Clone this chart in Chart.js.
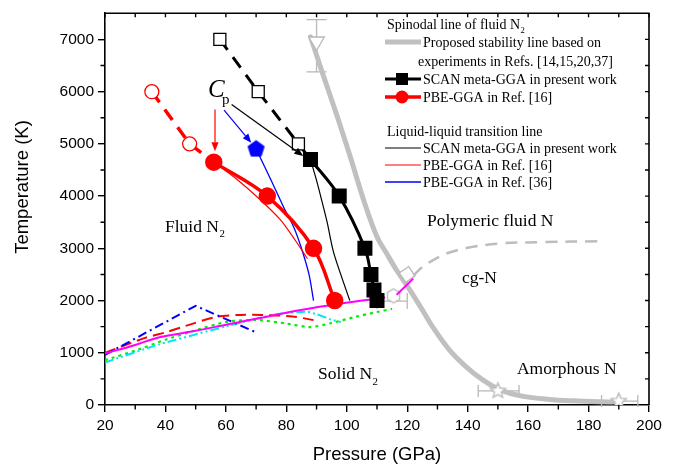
<!DOCTYPE html>
<html>
<head>
<meta charset="utf-8">
<script src="https://cdn.jsdelivr.net/npm/chart.js@4.4.1/dist/chart.umd.min.js"></script>
<style>
  html, body { margin: 0; padding: 0; background: #fff; }
  #wrap { width: 676px; height: 472px; }
</style>
</head>
<body>
<div id="wrap"><canvas id="c" width="676" height="472"></canvas></div>
<script>
// ---- Axis ticks ----
const pressureTicks = [20, 40, 60, 80, 100, 120, 140, 160, 180, 200];
const temperatureTicks = [0, 1000, 2000, 3000, 4000, 5000, 6000, 7000];

// ---- Spinodal line of fluid N2 ----
// SCAN meta-GGA (present work): computed points and the extrapolated branch
const scanSpinP = [88, 97.5, 106, 108, 109, 110];
const scanSpinT = [4700, 4000, 3000, 2500, 2200, 2000];
const scanSpinExtP = [58, 70.7, 84, 88];
const scanSpinExtT = [7000, 6000, 5000, 4700];
// PBE-GGA (Ref. 16)
const pbeSpinP = [56, 73.7, 89, 96];
const pbeSpinT = [4650, 4000, 3000, 2000];
const pbeSpinExtP = [35.5, 48, 56];
const pbeSpinExtT = [6000, 5000, 4650];
// Proposed stability line from experiments
const stabilityP = [88, 92, 96.7, 101, 106, 110, 113.2, 116.5, 120, 124.5, 128.7, 134, 139.7, 145, 150.7, 158, 167, 175, 184, 188];
const stabilityT = [7050, 6350, 5550, 4780, 3850, 3220, 2900, 2580, 2280, 1870, 1470, 1050, 720, 480, 290, 170, 107, 80, 62, 58];

// ---- Liquid-liquid transition lines ----
const scanLltP = [88, 90, 92, 93.5, 95.5, 98, 101];
const scanLltT = [4700, 4300, 3850, 3500, 2950, 2500, 2000];
const pbe16LltP = [56, 63, 71, 78, 83, 87];
const pbe16LltT = [4650, 4350, 3950, 3550, 3150, 2800];
const pbe36LltP = [70, 75, 79, 82.5, 85, 87.5, 89];
const pbe36LltT = [4900, 4300, 3800, 3400, 3000, 2500, 2000];

// ---- Melting lines ----
const meltP = [20, 30, 38, 50, 60, 70, 82, 90, 97, 104.5, 112.7];
const meltT = [985, 1150, 1298, 1420, 1537, 1650, 1790, 1870, 1935, 1995, 2057];
const meltHighP = [116.5, 122];
const meltHighT = [2110, 2420];
const meltBlueP = [20, 50, 70];
const meltBlueT = [960, 1900, 1390];
const meltRedP = [20, 33, 40, 47, 57, 65, 72, 82, 89];
const meltRedT = [1000, 1280, 1390, 1520, 1690, 1725, 1725, 1695, 1625];
const meltCyanP = [20, 38, 60, 75.7, 86.7, 90, 95, 98];
const meltCyanT = [815, 1161, 1505, 1726, 1788, 1738, 1632, 1590];
const meltGreenP = [20, 30, 40, 50, 60, 70, 80, 88, 95, 103, 110, 115];
const meltGreenT = [860, 1040, 1250, 1430, 1590, 1630, 1560, 1490, 1570, 1690, 1780, 1840];
// polymeric fluid / cg-N boundary
const cgBoundP = [122, 125, 129, 134, 140, 150, 165, 183];
const cgBoundT = [2480, 2640, 2790, 2920, 3010, 3090, 3120, 3135];

// ---- Experimental points ----
const expShockP = [90];   const expShockT = [6960];
const expShockTLo = [6380]; const expShockTHi = [7380];
const expCgP = [120];     const expCgT = [2500];
const expHexP = [115.5];  const expHexT = [2090];
const expBarP = [115];    const expBarT = [1990];
const expBarPLo = [110];  const expBarPHi = [120];
const expAmorphP = [150, 190]; const expAmorphT = [270, 75];
const expAmorphPLo = [143.5, 184.3]; const expAmorphPHi = [157, 196.3];

const pts = (xs, ys) => xs.map((x, i) => ({ x, y: ys[i] }));

// polygon / star markers drawn into small canvases
function shapeCanvas(kind, r, fill, stroke, lw) {
  const s = Math.ceil(2 * r + 2 * lw + 2);
  const c = document.createElement('canvas');
  c.width = s; c.height = s;
  const g = c.getContext('2d');
  const cx = s / 2, cy = s / 2;
  g.beginPath();
  if (kind === 'star') {
    for (let i = 0; i < 10; i++) {
      const a = -Math.PI / 2 + i * Math.PI / 5;
      const rr = i % 2 ? r * 0.45 : r;
      g.lineTo(cx + rr * Math.cos(a), cy + rr * Math.sin(a));
    }
  } else {
    const n = kind === 'pentagon' ? 5 : 6;
    for (let i = 0; i < n; i++) {
      const a = -Math.PI / 2 + i * 2 * Math.PI / n;
      g.lineTo(cx + r * Math.cos(a), cy + r * Math.sin(a));
    }
  }
  g.closePath();
  if (fill) { g.fillStyle = fill; g.fill(); }
  if (stroke) { g.strokeStyle = stroke; g.lineWidth = lw; g.stroke(); }
  return c;
}
const pentagon = shapeCanvas('pentagon', 8.5, '#0000ff', '#0000ff', 1);
const hexagon = shapeCanvas('hexagon', 7, '#ffffff', '#b8b8b8', 1.3);
const star = shapeCanvas('star', 8, '#ffffff', '#b8b8b8', 1.3);

const GRAY = '#c0c0c0';
const line = (data, color, width, extra) => Object.assign({
  data, borderColor: color, backgroundColor: color, borderWidth: width,
  pointRadius: 0, fill: false, showLine: true, tension: 0
}, extra || {});

const datasets = [
  line(pts(scanSpinP, scanSpinT), '#000', 3, { tension: 0.35, pointRadius: 8.5, pointStyle: 'rect', pointBackgroundColor: '#000', pointBorderColor: '#000' }),
  line(pts(scanSpinExtP, scanSpinExtT), '#000', 3, { borderDash: [13, 9], pointRadius: [8.5, 8.5, 8.5, 0], pointStyle: 'rect', pointBackgroundColor: '#fff', pointBorderColor: '#000', pointBorderWidth: 1.3 }),
  line(pts(pbeSpinP, pbeSpinT), '#ff0000', 3.5, { tension: 0.35, pointRadius: 7, pointStyle: 'circle', pointBackgroundColor: '#ff0000', pointBorderColor: '#ff0000' }),
  line(pts(pbeSpinExtP, pbeSpinExtT), '#ff0000', 3.5, { borderDash: [13, 9], pointRadius: [7, 7, 0], pointBackgroundColor: '#fff', pointBorderColor: '#ff0000', pointBorderWidth: 1.3 }),
  line(pts(scanLltP, scanLltT), '#000', 1.2, { tension: 0.3 }),
  line(pts(pbe16LltP, pbe16LltT), '#ff0000', 1.2, { tension: 0.3 }),
  line(pts(pbe36LltP, pbe36LltT), '#0000ff', 1.3, { tension: 0.3, pointRadius: [9, 0, 0, 0, 0, 0, 0], pointStyle: pentagon }),
  line(pts(meltP, meltT), '#ff00ff', 2, { tension: 0.3 }),
  line(pts(meltHighP, meltHighT), '#ff00ff', 2),
  line(pts(meltBlueP, meltBlueT), '#0000ff', 2, { borderDash: [9, 4, 2, 4] }),
  line(pts(meltRedP, meltRedT), '#ff0000', 2, { borderDash: [11, 6], tension: 0.3 }),
  line(pts(meltCyanP, meltCyanT), '#00e5ff', 2, { borderDash: [9, 3, 2, 3, 2, 3], tension: 0.2 }),
  line(pts(meltGreenP, meltGreenT), '#00ee00', 2.2, { borderDash: [3, 4], tension: 0.2 }),
  line(pts(cgBoundP, cgBoundT), '#bdbdbd', 2.5, { borderDash: [12, 8], tension: 0.35 }),
  line(pts(expShockP, expShockT), '#b8b8b8', 1.3, { showLine: false, pointRadius: 9, pointStyle: 'triangle', rotation: 180, pointBackgroundColor: '#fff', pointBorderColor: '#b8b8b8', pointBorderWidth: 1.3 }),
  line(pts(expCgP, expCgT), '#b8b8b8', 1.3, { showLine: false, pointRadius: 8, pointStyle: 'rectRot', rotation: 10, pointBackgroundColor: '#fff', pointBorderColor: '#b8b8b8', pointBorderWidth: 1.3 }),
  line(pts(expHexP, expHexT), '#b8b8b8', 1.3, { showLine: false, pointRadius: 7, pointStyle: hexagon }),
  line(pts(expAmorphP, expAmorphT), '#b8b8b8', 1.3, { showLine: false, pointRadius: 8, pointStyle: star }),
  line(pts(stabilityP, stabilityT), GRAY, 5, { tension: 0.35, borderCapStyle: 'round' })
];

// ---- Drawing helpers ----
const SERIF = '"Liberation Serif", "Times New Roman", serif';
const SANS = '"Liberation Sans", Arial, sans-serif';

// text with an optional subscript part: parts = [main, sub, tail]
function richText(ctx, parts, x, y, size, opts) {
  opts = opts || {};
  const subSize = size * 0.62;
  ctx.save();
  ctx.fillStyle = opts.color || '#000';
  ctx.textBaseline = 'alphabetic';
  ctx.textAlign = 'left';
  const mainFont = (opts.italic ? 'italic ' : '') + size + 'px ' + SERIF;
  const subFont = subSize + 'px ' + SERIF;
  ctx.font = mainFont;
  const w0 = ctx.measureText(parts[0]).width;
  ctx.font = subFont;
  const w1 = parts[1] ? ctx.measureText(parts[1]).width : 0;
  ctx.font = mainFont;
  const w2 = parts[2] ? ctx.measureText(parts[2]).width : 0;
  let sx = x;
  if (opts.align === 'center') sx = x - (w0 + w1 + w2) / 2;
  const base = opts.middle ? y + size * 0.33 : y;
  ctx.font = mainFont;
  ctx.fillText(parts[0], sx, base);
  if (parts[1]) { ctx.font = subFont; ctx.fillText(parts[1], sx + w0 + 0.5, base + size * 0.3); }
  if (parts[2]) { ctx.font = mainFont; ctx.fillText(parts[2], sx + w0 + w1 + 0.5, base); }
  ctx.restore();
}

function arrow(ctx, x1, y1, x2, y2, color) {
  const a = Math.atan2(y2 - y1, x2 - x1);
  const L = 9, W = 3.6;
  ctx.save();
  ctx.strokeStyle = color; ctx.fillStyle = color; ctx.lineWidth = 1.2;
  ctx.beginPath(); ctx.moveTo(x1, y1);
  ctx.lineTo(x2 - L * Math.cos(a), y2 - L * Math.sin(a)); ctx.stroke();
  ctx.beginPath();
  ctx.moveTo(x2, y2);
  ctx.lineTo(x2 - L * Math.cos(a) + W * Math.sin(a), y2 - L * Math.sin(a) - W * Math.cos(a));
  ctx.lineTo(x2 - L * Math.cos(a) - W * Math.sin(a), y2 - L * Math.sin(a) + W * Math.cos(a));
  ctx.closePath(); ctx.fill();
  ctx.restore();
}

const deco = {
  id: 'deco',
  beforeDatasetsDraw(chart) {
    const { ctx, scales: { x, y } } = chart;
    ctx.save();
    ctx.strokeStyle = '#b8b8b8';
    ctx.lineWidth = 1.3;
    // vertical error bar on the shock point
    expShockP.forEach((p, i) => {
      const px = x.getPixelForValue(p);
      const y1 = y.getPixelForValue(expShockTLo[i]), y2 = y.getPixelForValue(expShockTHi[i]);
      ctx.beginPath();
      ctx.moveTo(px, y1); ctx.lineTo(px, y2);
      ctx.moveTo(px - 10, y1); ctx.lineTo(px + 10, y1);
      ctx.moveTo(px - 10, y2); ctx.lineTo(px + 10, y2);
      ctx.stroke();
    });
    // horizontal error bars
    const hbar = (ps, ts, lo, hi, cap) => ps.forEach((p, i) => {
      const py = y.getPixelForValue(ts[i]);
      const x1 = x.getPixelForValue(lo[i]), x2 = x.getPixelForValue(hi[i]);
      ctx.beginPath();
      ctx.moveTo(x1, py); ctx.lineTo(x2, py);
      ctx.moveTo(x1, py - cap); ctx.lineTo(x1, py + cap);
      ctx.moveTo(x2, py - cap); ctx.lineTo(x2, py + cap);
      ctx.stroke();
    });
    hbar(expBarP, expBarT, expBarPLo, expBarPHi, 8);
    hbar(expAmorphP, expAmorphT, expAmorphPLo, expAmorphPHi, 6);
    ctx.restore();
  },
  afterDatasetsDraw(chart) {
    const { ctx, scales: { x, y } } = chart;
    const X = v => x.getPixelForValue(v), Y = v => y.getPixelForValue(v);

    // Cp annotation and arrows
    richText(ctx, ['C'], X(54.1), Y(5890), 25, { italic: true });
    richText(ctx, ['p'], X(58.7), Y(5760), 15);
    arrow(ctx, X(56.4), Y(5660), X(56.4), Y(4860), '#ff0000');
    arrow(ctx, X(59.4), Y(5645), X(68.4), Y(5020), '#0000ff');
    arrow(ctx, X(61.9), Y(5753), X(85.6), Y(4767), '#000000');

    // phase region labels
    const rs = 17.5;
    richText(ctx, ['Fluid N', '2'], X(39.85), Y(3425), rs, { middle: true });
    richText(ctx, ['Solid N', '2'], X(90.5), Y(602), rs, { middle: true });
    richText(ctx, ['Polymeric fluid N'], X(126.55), Y(3538), rs, { middle: true });
    richText(ctx, ['cg-N'], X(138.1), Y(2446), rs, { middle: true });
    richText(ctx, ['Amorphous N'], X(156.3), Y(696), rs, { middle: true });

    // legend
    const ls = 14;
    const tx = 423, sx1 = 385, sx2 = 421, mx = 402;
    richText(ctx, ['Spinodal line of fluid N', '2'], 387, 24, ls, { middle: true });
    const sample = (yy, color, w) => {
      ctx.save(); ctx.strokeStyle = color; ctx.lineWidth = w;
      ctx.beginPath(); ctx.moveTo(sx1, yy); ctx.lineTo(sx2, yy); ctx.stroke(); ctx.restore();
    };
    sample(42, GRAY, 5);
    richText(ctx, ['Proposed stability line based on'], tx, 42, ls, { middle: true });
    richText(ctx, ['experiments in Refs. [14,15,20,37]'], 418, 61, ls, { middle: true });
    sample(79, '#000', 3);
    ctx.fillStyle = '#000'; ctx.fillRect(mx - 6, 79 - 6, 12, 12);
    richText(ctx, ['SCAN meta-GGA in present work'], tx, 79, ls, { middle: true });
    sample(97, '#ff0000', 3.5);
    ctx.fillStyle = '#ff0000'; ctx.beginPath(); ctx.arc(mx, 97, 6.5, 0, Math.PI * 2); ctx.fill();
    richText(ctx, ['PBE-GGA in Ref. [16]'], tx, 97, ls, { middle: true });
    richText(ctx, ['Liquid-liquid transition line'], 387, 131, ls, { middle: true });
    sample(148, '#000', 1.2);
    richText(ctx, ['SCAN meta-GGA in present work'], tx, 148, ls, { middle: true });
    sample(165, '#ff0000', 1.2);
    richText(ctx, ['PBE-GGA in Ref. [16]'], tx, 165, ls, { middle: true });
    sample(182, '#0000ff', 1.3);
    richText(ctx, ['PBE-GGA in Ref. [36]'], tx, 182, ls, { middle: true });
  },
  afterDraw(chart) {
    const { ctx, chartArea: a, scales: { x, y } } = chart;
    ctx.save();
    ctx.strokeStyle = '#000';
    ctx.lineWidth = 1.4;
    ctx.beginPath();
    // minor ticks (outward) on bottom and left
    for (let p = 30; p < 200; p += 20) {
      const px = x.getPixelForValue(p);
      ctx.moveTo(px, a.bottom); ctx.lineTo(px, a.bottom + 4.5);
    }
    for (let t = 500; t < 7500; t += 1000) {
      const py = y.getPixelForValue(t);
      ctx.moveTo(a.left, py); ctx.lineTo(a.left - 4.5, py);
    }
    // inward ticks on top and right
    for (let p = 20; p <= 200; p += 10) {
      const px = x.getPixelForValue(p);
      ctx.moveTo(px, a.top); ctx.lineTo(px, a.top + 4);
    }
    for (let t = 500; t <= 7000; t += 500) {
      const py = y.getPixelForValue(t);
      ctx.moveTo(a.right, py); ctx.lineTo(a.right - 4, py);
    }
    ctx.stroke();
    // top and right frame
    ctx.lineWidth = 1.6;
    ctx.beginPath();
    ctx.moveTo(a.left, a.top); ctx.lineTo(a.right, a.top); ctx.lineTo(a.right, a.bottom);
    ctx.stroke();
    // axis titles
    ctx.fillStyle = '#000';
    ctx.font = '18.5px ' + SANS;
    ctx.textAlign = 'center';
    ctx.textBaseline = 'middle';
    ctx.fillText('Pressure (GPa)', (a.left + a.right) / 2, 455);
    ctx.translate(23, 187);
    ctx.rotate(-Math.PI / 2);
    ctx.fillText('Temperature (K)', 0, 0);
    ctx.restore();
  }
};

const tickFont = { family: SANS, size: 15.5 };
new Chart(document.getElementById('c'), {
  type: 'line',
  data: { datasets },
  options: {
    responsive: false,
    animation: false,
    events: [],
    layout: { padding: { left: 0, right: 27, top: 6, bottom: 0 } },
    plugins: { legend: { display: false }, tooltip: { enabled: false } },
    scales: {
      x: {
        type: 'linear', min: pressureTicks[0], max: pressureTicks[pressureTicks.length - 1],
        afterBuildTicks: s => { s.ticks = pressureTicks.map(v => ({ value: v })); },
        ticks: { font: tickFont, color: '#000', padding: 4, maxRotation: 0, autoSkip: false, callback: v => String(v) },
        grid: { display: true, drawOnChartArea: false, drawTicks: true, tickLength: 7, color: '#000', lineWidth: 1.4 },
        border: { display: true, color: '#000', width: 1.6 },
        afterFit: s => { s.height = 67; }
      },
      y: {
        type: 'linear', min: 0, max: 7500,
        afterBuildTicks: s => { s.ticks = temperatureTicks.map(v => ({ value: v })); },
        ticks: { font: tickFont, color: '#000', padding: 4, autoSkip: false, callback: v => String(v) },
        grid: { display: true, drawOnChartArea: false, drawTicks: true, tickLength: 7, color: '#000', lineWidth: 1.4 },
        border: { display: true, color: '#000', width: 1.6 },
        afterFit: s => { s.width = 105; }
      }
    }
  },
  plugins: [deco]
});
</script>
</body>
</html>
